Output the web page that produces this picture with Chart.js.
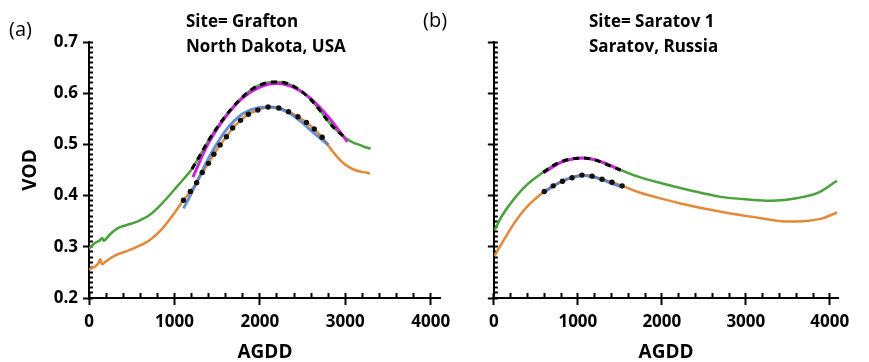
<!DOCTYPE html>
<html>
<head>
<meta charset="utf-8">
<script src="https://cdn.jsdelivr.net/npm/chart.js@4"></script>
<style>
  body { margin: 0; background: #fff; font-family: "Open Sans", sans-serif; }
  #wrap { position: relative; width: 869px; height: 362px; overflow: hidden; }
  canvas { position: absolute; top: 0; }
  .lbl { position: absolute; color: #000; white-space: nowrap; line-height: 1; }
  .ttl { font-weight: bold; font-size: 17px; }
  .pan { font-size: 20px; }
</style>
</head>
<body>
<div id="wrap">
  <canvas id="chartA" width="470" height="362" style="left:0"></canvas>
  <canvas id="chartB" width="399" height="362" style="left:470px"></canvas>
  <div class="lbl pan" style="left:9px; top:19px">(a)</div>
  <div class="lbl pan" style="left:423px; top:10px">(b)</div>
  <div class="lbl ttl" style="left:186px; top:12px">Site= Grafton</div>
  <div class="lbl ttl" style="left:186px; top:37px">North Dakota, USA</div>
  <div class="lbl ttl" style="left:589px; top:12px">Site= Saratov 1</div>
  <div class="lbl ttl" style="left:589px; top:37px">Saratov, Russia</div>
</div>
<script>
// axis ticks (labelled majors) and minor tick steps
const xTicks = [0, 1000, 2000, 3000, 4000];
const yTicks = [0.2, 0.3, 0.4, 0.5, 0.6, 0.7];
const xMinorStep = 200;
const yMinorStep = 0.01;

// (a) Grafton, North Dakota  -- [AGDD, VOD]
const graftonGreen = [[0,0.296],[66,0.307],[121,0.312],[154,0.317],[176,0.312],[250,0.325],[342,0.337],[450,0.343],[562,0.349],[709,0.362],[856,0.385],[1000,0.412],[1100,0.431],[1205,0.452],[1300,0.479],[1400,0.508],[1500,0.533],[1600,0.556],[1700,0.576],[1800,0.593],[1900,0.607],[2000,0.616],[2100,0.621],[2200,0.622],[2300,0.620],[2400,0.613],[2500,0.602],[2600,0.587],[2700,0.567],[2800,0.545],[2900,0.527],[3007,0.512],[3100,0.503],[3170,0.499],[3245,0.494],[3298,0.492]];
const graftonOrange = [[0,0.256],[66,0.261],[110,0.268],[132,0.276],[154,0.266],[200,0.272],[320,0.284],[450,0.292],[562,0.300],[709,0.313],[856,0.335],[1000,0.366],[1105,0.391],[1186,0.408],[1260,0.425],[1326,0.445],[1399,0.463],[1462,0.481],[1535,0.499],[1609,0.515],[1682,0.532],[1774,0.547],[1866,0.559],[1976,0.567],[2097,0.573],[2222,0.571],[2336,0.564],[2446,0.554],[2545,0.543],[2637,0.530],[2729,0.514],[2804,0.497],[2878,0.481],[2950,0.468],[3020,0.458],[3098,0.451],[3170,0.447],[3245,0.445],[3290,0.443]];
const graftonSmooth = [[1205,0.452],[1300,0.479],[1400,0.508],[1500,0.533],[1600,0.556],[1700,0.576],[1800,0.593],[1900,0.607],[2000,0.616],[2100,0.621],[2200,0.622],[2300,0.620],[2400,0.613],[2500,0.602],[2600,0.587],[2700,0.567],[2800,0.545],[2900,0.527],[3007,0.512]];
const graftonFitGreen = [[1216,0.436],[1400,0.503],[1600,0.554],[1800,0.591],[2000,0.612],[2200,0.619],[2400,0.611],[2600,0.589],[2800,0.554],[3025,0.505]];
const graftonFitOrange = [[1106,0.375],[1200,0.405],[1300,0.440],[1400,0.473],[1500,0.502],[1600,0.527],[1700,0.546],[1800,0.560],[1900,0.568],[2000,0.572],[2100,0.573],[2200,0.571],[2300,0.565],[2400,0.555],[2500,0.542],[2600,0.527],[2700,0.513],[2804,0.499]];
const graftonDots = [[1105,0.391],[1186,0.408],[1260,0.425],[1326,0.445],[1399,0.463],[1462,0.481],[1535,0.499],[1609,0.515],[1682,0.532],[1774,0.547],[1866,0.559],[1976,0.567],[2097,0.573],[2222,0.571],[2336,0.564],[2446,0.554],[2545,0.543],[2637,0.530],[2729,0.514]];

// (b) Saratov 1, Russia
const saratovGreen = [[7,0.332],[110,0.364],[258,0.397],[405,0.423],[589,0.446],[700,0.458],[800,0.466],[900,0.471],[1000,0.473],[1100,0.473],[1200,0.470],[1300,0.464],[1400,0.457],[1509,0.450],[1700,0.438],[1950,0.426],[2318,0.411],[2686,0.398],[3054,0.392],[3312,0.390],[3606,0.395],[3864,0.406],[4085,0.429]];
const saratovOrange = [[7,0.282],[110,0.311],[258,0.350],[405,0.380],[600,0.408],[707,0.419],[817,0.428],[931,0.435],[1049,0.440],[1170,0.438],[1288,0.432],[1406,0.426],[1527,0.419],[1700,0.408],[1950,0.396],[2318,0.381],[2686,0.369],[3054,0.359],[3422,0.350],[3680,0.350],[3900,0.355],[4085,0.367]];
const saratovSmooth = [[589,0.446],[700,0.458],[800,0.466],[900,0.471],[1000,0.473],[1100,0.473],[1200,0.470],[1300,0.464],[1400,0.457],[1509,0.450]];
const saratovFitGreen = [[589,0.444],[700,0.456],[800,0.465],[900,0.470],[1000,0.473],[1100,0.473],[1200,0.470],[1300,0.465],[1400,0.458],[1509,0.449]];
const saratovFitOrange = [[589,0.405],[700,0.418],[800,0.427],[900,0.434],[1000,0.438],[1100,0.439],[1200,0.436],[1300,0.431],[1400,0.424],[1540,0.416]];
const saratovDots = [[600,0.408],[707,0.419],[817,0.428],[931,0.435],[1049,0.440],[1170,0.438],[1288,0.432],[1406,0.426],[1527,0.419]];

const GREEN = '#4aa23c';
const ORANGE = '#e08a3a';
const MAGENTA = '#c626d8';
const BLUE = 'rgba(80,125,205,0.85)';

function line(data, color, width, dash) {
  return {
    data: data,
    borderColor: color,
    borderWidth: width,
    borderDash: dash || [],
    pointRadius: 0,
    tension: 0.35,
    fill: false
  };
}

function dots(data) {
  return {
    data: data,
    showLine: false,
    pointRadius: 2.7,
    pointBackgroundColor: '#111',
    pointBorderColor: '#111',
    pointBorderWidth: 0
  };
}

function steps(from, to, step) {
  const out = [];
  const n = Math.round((to - from) / step);
  for (let i = 0; i <= n; i++) out.push({ value: +(from + i * step).toFixed(4) });
  return out;
}

const isMajor = (v, unit) => Math.abs(v / unit - Math.round(v / unit)) < 1e-6;

function makeChart(id, sets, opts) {
  const font = { family: 'Open Sans', weight: 'bold', size: 17 };
  const titleFont = { family: 'Open Sans', weight: 'bold', size: 19, lineHeight: 1 };
  return new Chart(document.getElementById(id), {
    type: 'line',
    data: {
      // chart.js paints dataset 0 last, so the top layer goes first
      datasets: [
        dots(sets.dots),
        line(sets.smooth, '#000', 3, [6, 5]),
        line(sets.fitOrange, BLUE, 3),
        line(sets.fitGreen, MAGENTA, 3),
        line(sets.orange, ORANGE, 2.5),
        line(sets.green, GREEN, 2.5)
      ]
    },
    options: {
      responsive: false,
      animation: false,
      layout: { padding: { left: 0, right: opts.padRight, top: 42, bottom: 0 } },
      plugins: { legend: { display: false }, tooltip: { enabled: false } },
      scales: {
        // labelled axis, every 200 gets a short inward tick
        x: {
          type: 'linear', position: 'bottom', weight: 1,
          min: 0, max: opts.xMax,
          afterBuildTicks: s => { s.ticks = steps(0, 4000, xMinorStep); },
          afterFit: s => { s.height = 64; },
          grid: { drawOnChartArea: false, drawTicks: true, tickLength: -5,
                  tickWidth: 2, tickColor: '#000' },
          border: { display: true, color: '#000', width: 2 },
          ticks: { color: '#000', font: font, padding: 19, maxRotation: 0, autoSkip: false,
                   callback: v => isMajor(v, 1000) ? String(v) : '' },
          title: { display: true, text: 'AGDD', color: '#000', font: titleFont, padding: 0 }
        },
        // zero-height companion axis: majors poke out below the axis line
        x2: {
          type: 'linear', position: 'bottom', weight: 0,
          min: 0, max: opts.xMax,
          afterBuildTicks: s => { s.ticks = xTicks.map(v => ({ value: v })); },
          afterFit: s => { s.height = 0; },
          grid: { drawOnChartArea: false, drawTicks: true, tickLength: 7,
                  tickWidth: 2, tickColor: '#000' },
          border: { display: false },
          ticks: { display: false }
        },
        y: {
          position: 'left', weight: 1,
          min: 0.2, max: 0.7,
          afterBuildTicks: s => { s.ticks = steps(0.2, 0.7, yMinorStep); },
          afterFit: s => { s.width = opts.yWidth; },
          grid: { drawOnChartArea: false, drawTicks: true, tickLength: -4,
                  tickWidth: 2, tickColor: '#000' },
          border: { display: true, color: '#000', width: 2 },
          ticks: { display: opts.yLabels, color: '#000', font: font, padding: 15, autoSkip: false,
                   callback: v => isMajor(v, 0.1) ? v.toFixed(1) : '' },
          title: { display: opts.yLabels, text: 'VOD', color: '#000', font: titleFont,
                   padding: { top: 21, bottom: 0 } }
        },
        y2: {
          position: 'left', weight: 0,
          min: 0.2, max: 0.7,
          afterBuildTicks: s => { s.ticks = yTicks.map(v => ({ value: v })); },
          afterFit: s => { s.width = 0; },
          grid: { drawOnChartArea: false, drawTicks: true, tickLength: 6,
                  tickWidth: 2, tickColor: '#000' },
          border: { display: false },
          ticks: { display: false }
        }
      }
    }
  });
}

makeChart('chartA', {
  green: graftonGreen, orange: graftonOrange, smooth: graftonSmooth,
  fitGreen: graftonFitGreen, fitOrange: graftonFitOrange, dots: graftonDots
}, { xMax: 4120, padRight: 7, yWidth: 89, yLabels: true });

makeChart('chartB', {
  green: saratovGreen, orange: saratovOrange, smooth: saratovSmooth,
  fitGreen: saratovFitGreen, fitOrange: saratovFitOrange, dots: saratovDots
}, { xMax: 4100, padRight: 11, yWidth: 17, yLabels: false });
</script>
</body>
</html>
